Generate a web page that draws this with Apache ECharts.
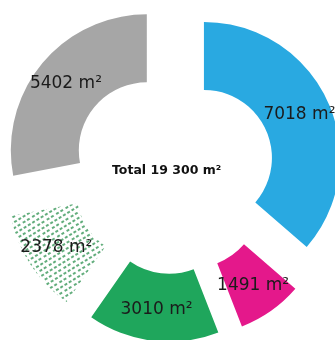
<!DOCTYPE html>
<html>

	<head>
		<meta charset="utf-8">
		<title></title>
		<style>
			html,
			body {
				margin: 0;
				height: 100%;
				background-color: white;
			}
		</style>
	</head>

	<body>
		<div id="main" style="width: 335px;height:340px;"></div>

		<script src="https://cdn.jsdelivr.net/npm/echarts@6/dist/echarts.min.js"></script>
		<script>
			// areas in m2, clockwise from the top
			var areas = [7018, 1491, 3010, 2378, 5402];
			var sliceNames = ['Blue', 'Pink', 'Green', 'Hatched', 'Grey'];
			var totalText = 'Total 19 300 m\u00b2';

			var sliceColors = ['#29a9e1', '#e4188b', '#1fa65c', '#ffffff', '#a6a6a6'];

			var seriesData = [];
			for(var i = 0; i < areas.length; i++) {
				var item = {
					name: sliceNames[i],
					value: areas[i],
					selected: true,
					itemStyle: {
						color: sliceColors[i]
					}
				};
				if(sliceNames[i] == 'Hatched') {
					// small slanted green dashes
					item.itemStyle.decal = {
						symbol: 'rect',
						symbolSize: 1,
						color: '#62ad7c',
						dashArrayX: [[3, 2, 3, 2], [0, 2.5, 3, 2, 3, -0.5]],
						dashArrayY: [1.2, 2.4],
						rotation: -0.55
					};
				}
				seriesData.push(item);
			}

			var myChart = echarts.init(document.getElementById('main'));
			var option = {
				animation: false,
				graphic: [{
					type: 'text',
					left: 112,
					top: 164,
					style: {
						text: totalText,
						font: 'bold 12.5px "DejaVu Sans"',
						fill: '#111'
					}
				}],
				series: [{
					type: 'pie',
					center: [173, 172],
					radius: [68, 136],
					startAngle: 90,
					clockwise: true,
					selectedMode: 'multiple',
					selectedOffset: 34,
					avoidLabelOverlap: false,
					emphasis: {
						disabled: true
					},
					select: {
						itemStyle: {
							borderWidth: 0
						}
					},
					label: {
						show: true,
						position: 'inside',
						formatter: '{c} m\u00b2',
						color: '#1b1b1b',
						fontFamily: 'DejaVu Sans',
						fontSize: 17
					},
					labelLine: {
						show: false
					},
					data: seriesData
				}]
			};
			myChart.setOption(option);
		</script>
	</body>

</html>
